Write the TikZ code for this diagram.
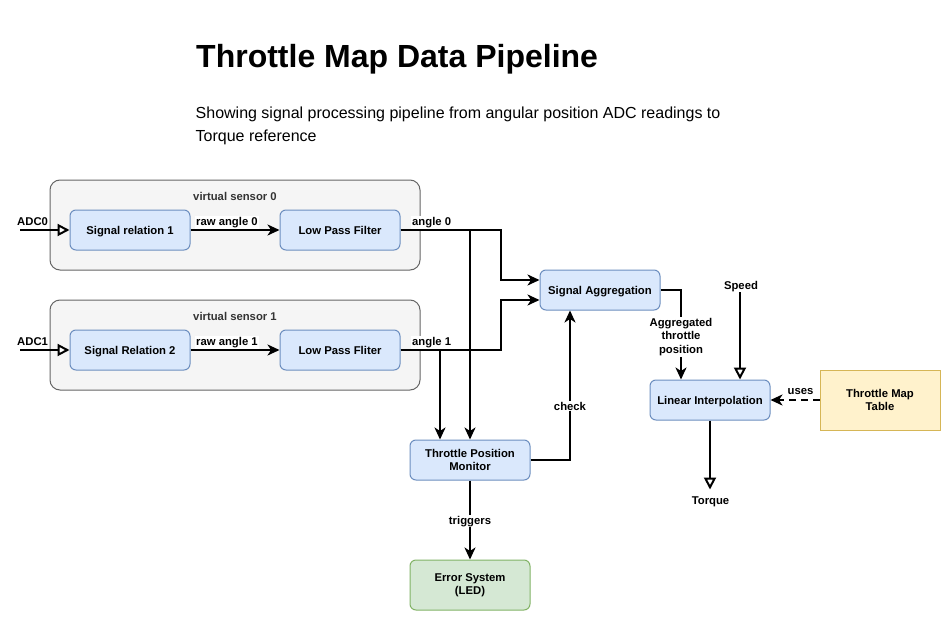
\documentclass[tikz,border=0pt]{standalone}
\usepackage{fontspec}
\setmainfont{Liberation Sans}
\usetikzlibrary{arrows.meta,calc}
\definecolor{bfill}{HTML}{DAE8FC}
\definecolor{bdraw}{HTML}{6C8EBF}
\definecolor{gfill}{HTML}{F5F5F5}
\definecolor{gdraw}{HTML}{666666}
\definecolor{gtext}{HTML}{333333}
\definecolor{efill}{HTML}{D5E8D4}
\definecolor{edraw}{HTML}{82B366}
\definecolor{yfill}{HTML}{FFF2CC}
\definecolor{ydraw}{HTML}{D6B656}
\newcommand\lblfont{\fontsize{11.3}{13.4}\selectfont\bfseries}
\begin{document}
\begin{tikzpicture}[x=1pt,y=-1pt,
  lbl/.style={font=\lblfont, inner sep=1pt},
  elbl/.style={font=\lblfont, fill=white, inner sep=1pt},
  box/.style={draw=bdraw, fill=bfill, rounded corners=6pt, line width=1pt, minimum width=120pt, minimum height=40pt, align=center, font=\lblfont, inner sep=2pt},
  oneline/.style={text height=8pt, text depth=0pt},
  grp/.style={draw=gdraw, fill=gfill, rounded corners=10pt, line width=1pt, minimum width=370pt, minimum height=90pt},
  conn/.style={line width=2pt},
  fa/.style={-{Stealth[length=12pt,width=11pt,inset=3.5pt]}},
  oa/.style={-{Triangle[length=12pt,width=12pt,fill=white]}},
]
\useasboundingbox (0,0) rectangle (951,621);
\fill[white] (0,0) rectangle (951,621);

% title
\node[anchor=base west, inner sep=0, font=\fontsize{32}{38}\selectfont\bfseries] (title) at (196,67) {Throttle Map Data Pipeline};
\node[anchor=base west, inner sep=0, font=\fontsize{16}{22}\selectfont] (sub1) at (195.5,118.5) {Showing signal processing pipeline from angular position ADC readings to};
\node[anchor=base west, inner sep=0, font=\fontsize{16}{22}\selectfont] (sub2) at (195.5,141) {Torque reference};

% groups
\node[grp] (vs0) at (235,225) {};
\node[grp] (vs1) at (235,345) {};
\node[lbl, text=gtext, anchor=base] (vs0l) at (235,200.5) {virtual sensor 0};
\node[lbl, text=gtext, anchor=base] (vs1l) at (235,320.5) {virtual sensor 1};

% boxes
\node[box,oneline] (sr1) at (130,230) {Signal relation 1};
\node[box,oneline] (lpf0) at (340,230) {Low Pass Filter};
\node[box,oneline] (sr2) at (130,350) {Signal Relation 2};
\node[box,oneline] (lpf1) at (340,350) {Low Pass Fliter};
\node[box,oneline] (sa) at (600,290) {Signal Aggregation};
\node[box,oneline] (li) at (710,400) {Linear Interpolation};
\node[box] (tpm) at (470,460) {Throttle Position\\Monitor};
\node[box, draw=edraw, fill=efill, minimum height=50pt] (err) at (470,585) {Error System\\(LED)};
\node[box, draw=ydraw, fill=yfill, rounded corners=0pt, minimum height=60pt] (tmt) at (880,400) {Throttle Map\\Table};

% free ends
\coordinate (adc0) at (20,230);
\coordinate (adc1) at (20,350);
\coordinate (spd) at (740,292);
\coordinate (trq) at (710,489.5);

% connectors
\draw[conn,oa] (adc0) -- (sr1.west);
\draw[conn,oa] (adc1) -- (sr2.west);
\draw[conn,fa] (sr1) -- (lpf0);
\draw[conn,fa] (sr2) -- (lpf1);
\draw[conn,fa] (lpf0.east) -- ++(100,0) |- ($(sa.west)+(0,-10)$);
\draw[conn,fa] (lpf1.east) -- ++(100,0) |- ($(sa.west)+(0,10)$);
\draw[conn,fa] (lpf0.east) -| (tpm.north);
\draw[conn,fa] (lpf1.east) -| ($(tpm.north)+(-30,0)$);
\draw[conn,fa] (tpm.east) -| ($(sa.south)+(-30,0)$);
\draw[conn,fa] (tpm.south) -- (err.north);
\draw[conn,fa] (sa.east) -| ($(li.north)+(-29,0)$);
\draw[conn,oa] (spd) -- ($(li.north)+(30,0)$);
\draw[conn,oa] (li.south) -- (trq);
\draw[conn,fa,dash pattern=on 7pt off 5pt] (tmt.west) -- (li.east);

% labels
\node[lbl, anchor=base west] (l_adc0) at (16,225.5) {ADC0};
\node[lbl, anchor=base west] (l_adc1) at (16,345.5) {ADC1};
\node[elbl, anchor=base west] (l_raw0) at (195,225.5) {raw angle 0};
\node[elbl, anchor=base west] (l_raw1) at (195,345.5) {raw angle 1};
\node[elbl, anchor=base west] (l_a0) at (411,225.5) {angle 0};
\node[elbl, anchor=base west] (l_a1) at (411,345.5) {angle 1};
\node[elbl, align=center] (l_agg) at (681,337) {Aggregated\\throttle\\position};
\node[elbl] (l_chk) at (570,406) {check};
\node[elbl, anchor=base] (l_trg) at (470,524) {triggers};
\node[elbl, anchor=base] (l_uses) at (800.5,394) {uses};
\node[lbl, anchor=base] (l_spd) at (741,289.5) {Speed};
\node[lbl, anchor=base] (l_trq) at (710.5,504.5) {Torque};
\end{tikzpicture}
\end{document}
